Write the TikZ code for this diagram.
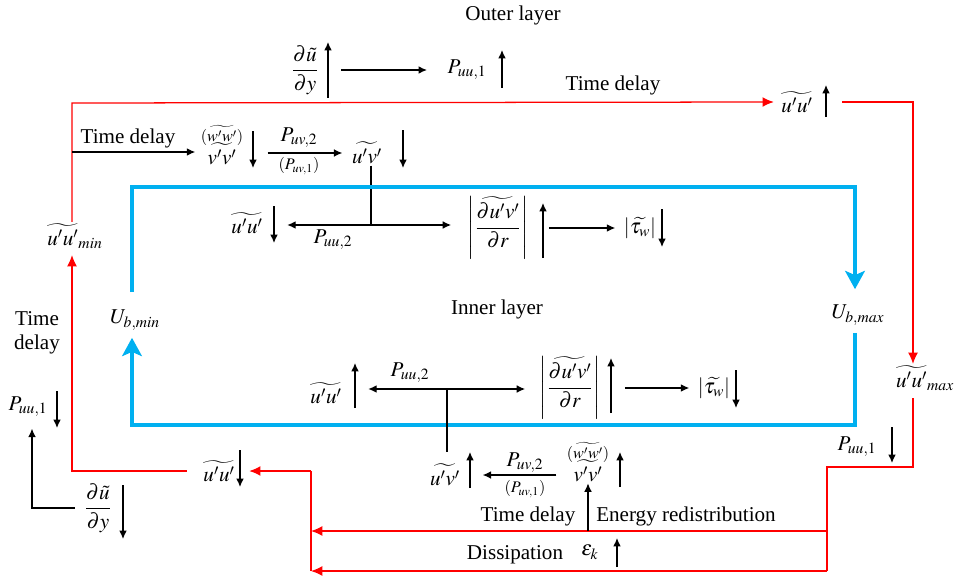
\documentclass[tikz,border=0pt]{standalone}
\usepackage{amsmath}
\usepackage{mathptmx}
\usepackage[no-math]{fontspec}
\setmainfont{Liberation Serif}
\usetikzlibrary{arrows.meta,calc}
\definecolor{meanblue}{RGB}{0,176,240}

\begin{document}
\begin{tikzpicture}[
  x=0.025cm, y=-0.025cm,
  >=Latex,
  font={\fontsize{15}{17}\selectfont},
  every node/.style={inner sep=1pt},
  flow/.style={-{Latex[length=6pt,width=5.5pt]},line width=0.9pt},
  trend/.style={-{Latex[length=6pt,width=5.5pt]},line width=0.9pt},
  delay/.style={-{Latex[length=8pt,width=7pt]},draw=red,line width=0.9pt},
  wire/.style={draw=red,line width=0.9pt},
  mean/.style={-{Stealth[length=13pt,width=14pt,inset=3pt]},draw=meanblue,line width=3.3pt},
  small/.style={font={\fontsize{11.5}{12}\selectfont}}
]
  \useasboundingbox (0,0) rectangle (960,578);

  % outer layer
  \node (OUT) at (513,15) {Outer layer};
  \node (DUDYo) at (305,70) {$\dfrac{\partial\tilde{u}}{\partial y}$};
  \node (PUUo) at (467,70) {$P_{uu,1}$};
  \draw[flow] ($(DUDYo.east)+(21,0)$) -- ($(PUUo.west)+(-19,0)$);
  \node (UUo) at (797,102) {$\widetilde{u'u'}$};
  \node (UUmax) at (925,378) {$\widetilde{u'u'}_{max}$};
  \node (UUmin) at (75,236) {$\widetilde{u'u'}_{min}$};

  \coordinate (LT) at (72,103);
  \draw[delay] (UUmin.north -| LT) -- (LT) -- ($(UUo.west)+(-6,0)$);
  \node (TDo) at (613,85) {Time delay};
  \draw[delay] ($(UUo.east)+(28,0)$) -| ($(UUmax.north)+(-12,0)$);

  % upper half of inner layer
  \coordinate (LD) at (72,152);
  \node[align=center] (VVa) at (222,145)
    {{\fontsize{11.5}{12}\selectfont$(\widetilde{w'w'})$}\\[-3pt]$\widetilde{v'v'}$};
  \draw[flow] (LD) -- ($(LD -| VVa.west)+(-4,0)$);
  \node (TDa) at (128,138) {Time delay};
  \node (UVa) at (367,153) {$\widetilde{u'v'}$};
  \draw[flow] ($(VVa.east |- UVa.west)+(23,0)$) -- ($(UVa.west)+(-8,0)$);
  \node (PUVa) at (299,138) {$P_{uv,2}$};
  \node[small] (PUVa1) at (299,166) {$(P_{uv,1})$};

  \node (UUa) at (247,223) {$\widetilde{u'u'}$};
  \node (DUVa) at (498,228)
    {$\left|\dfrac{\widetilde{\partial u'v'}}{\partial r}\right|$};
  \node (TAUa) at (640,228) {$\left|\widetilde{\tau_w}\right|$};
  \coordinate (JA) at (371,225);
  \draw[line width=0.9pt] (UVa.south -| JA) -- (JA);
  \draw[flow] (JA) -- ($(UUa.east |- JA)+(23,0)$);
  \draw[flow] (JA) -- ($(DUVa.west |- JA)+(-15,0)$);
  \node (PUUa) at (333,240) {$P_{uu,2}$};
  \draw[flow] ($(DUVa.east)+(19,0)$) -- ($(TAUa.west)+(-7,0)$);

  % mean velocity loop
  \node (UBmin) at (135,320) {$U_{b,min}$};
  \node (UBmax) at (858,315) {$U_{b,max}$};
  \node (INN) at (497,309) {Inner layer};
  \coordinate (BTL) at (132,187);
  \coordinate (BTR) at (855,187);
  \coordinate (BBL) at (132,425);
  \coordinate (BBR) at (855,425);
  \draw[mean] ($(UBmin.north -| BTL)+(0,-16)$) -- (BTL) -- (BTR)
    -- ($(UBmax.north -| BTR)+(0,-14)$);
  \draw[mean] ($(UBmax.south -| BBR)+(0,6)$) -- (BBR) -- (BBL)
    -- ($(UBmin.south -| BBL)+(0,6)$);

  % lower half of inner layer
  \node (UUb) at (326,393) {$\widetilde{u'u'}$};
  \node (DUVb) at (570,388)
    {$\left|\dfrac{\widetilde{\partial u'v'}}{\partial r}\right|$};
  \node (TAUb) at (714,388) {$\left|\widetilde{\tau_w}\right|$};
  \coordinate (JB) at (447,389);
  \node (PUUb) at (410,373) {$P_{uu,2}$};
  \draw[flow] (JB) -- ($(UUb.east |- JB)+(25,0)$);
  \draw[flow] (JB) -- ($(DUVb.west |- JB)+(-13,0)$);
  \draw[flow] ($(DUVb.east)+(23,0)$) -- ($(TAUb.west)+(-7,0)$);

  \node (UVb) at (445,475) {$\widetilde{u'v'}$};
  \draw[line width=0.9pt] (JB) -- ($(UVb.north -| JB)+(0,-10)$);
  \node[align=center] (VVb) at (588,462)
    {{\fontsize{11.5}{12}\selectfont$(\widetilde{w'w'})$}\\[-3pt]$\widetilde{v'v'}$};
  \draw[flow] ($(VVb.west |- UVb.east)+(-9,0)$) -- ($(UVb.east)+(21,0)$);
  \node (PUVb) at (525,463) {$P_{uv,2}$};
  \node[small] (PUVb1) at (525,489) {$(P_{uv,1})$};

  % right side and bottom feedback
  \node (PUUr) at (857,447) {$P_{uu,1}$};
  \coordinate (RA) at (827,467);
  \coordinate (RB) at (827,531);
  \coordinate (RC) at (827,571);
  \coordinate (LA) at (311,471);
  \coordinate (LB) at (311,531);
  \coordinate (LC) at (311,571);
  \draw[wire] ($(UUmax.south)+(-12,6)$) |- (RA) -- (RC);
  \draw[delay] (RB) -- (LB);
  \draw[delay] (RC) -- (LC);
  \draw[wire] (LC) -- (LA);
  \node (UUc) at (219,471) {$\widetilde{u'u'}$};
  \draw[delay] (LA) -- ($(UUc.east)+(13,0)$);
  \draw[delay] ($(UUc.west)+(-15,0)$) -| ($(UUmin.south)+(-3,5)$);
  \draw[flow] (VVb.south |- LB) -- (VVb.south);
  \node (TDb) at (528,516) {Time delay};
  \node (ER) at (686,516) {Energy redistribution};
  \node (DIS) at (515,555) {Dissipation};
  \node (EPS) at (590,552) {$\varepsilon_k$};

  % left side
  \node[align=center] (TDl) at (37,333) {Time\\delay};
  \node (PUUl) at (28,407) {$P_{uu,1}$};
  \node (DUDYl) at (98,508) {$\dfrac{\partial\tilde{u}}{\partial y}$};
  \draw[flow] ($(DUDYl.west)+(-8,0)$) -| ($(PUUl.south)+(4,10)$);

  % trends
  \draw[trend] (328,98) -- (328,42);
  \draw[trend] (502,88) -- (502,50);
  \draw[trend] (826,117) -- (826,85);
  \draw[trend] (253,131) -- (253,168);
  \draw[trend] (403,130) -- (403,168);
  \draw[trend] (274,206) -- (274,243);
  \draw[trend] (543,258) -- (543,203);
  \draw[trend] (662,209) -- (662,247);
  \draw[trend] (355,408) -- (355,363);
  \draw[trend] (611,413) -- (611,358);
  \draw[trend] (736,370) -- (736,408);
  \draw[trend] (470,488) -- (470,452);
  \draw[trend] (620,487) -- (620,452);
  \draw[trend] (240,450) -- (240,487);
  \draw[trend] (57,391) -- (57,428);
  \draw[trend] (123,485) -- (123,539);
  \draw[trend] (892,427) -- (892,463);
  \draw[trend] (617,567) -- (617,538);
\end{tikzpicture}
\end{document}
